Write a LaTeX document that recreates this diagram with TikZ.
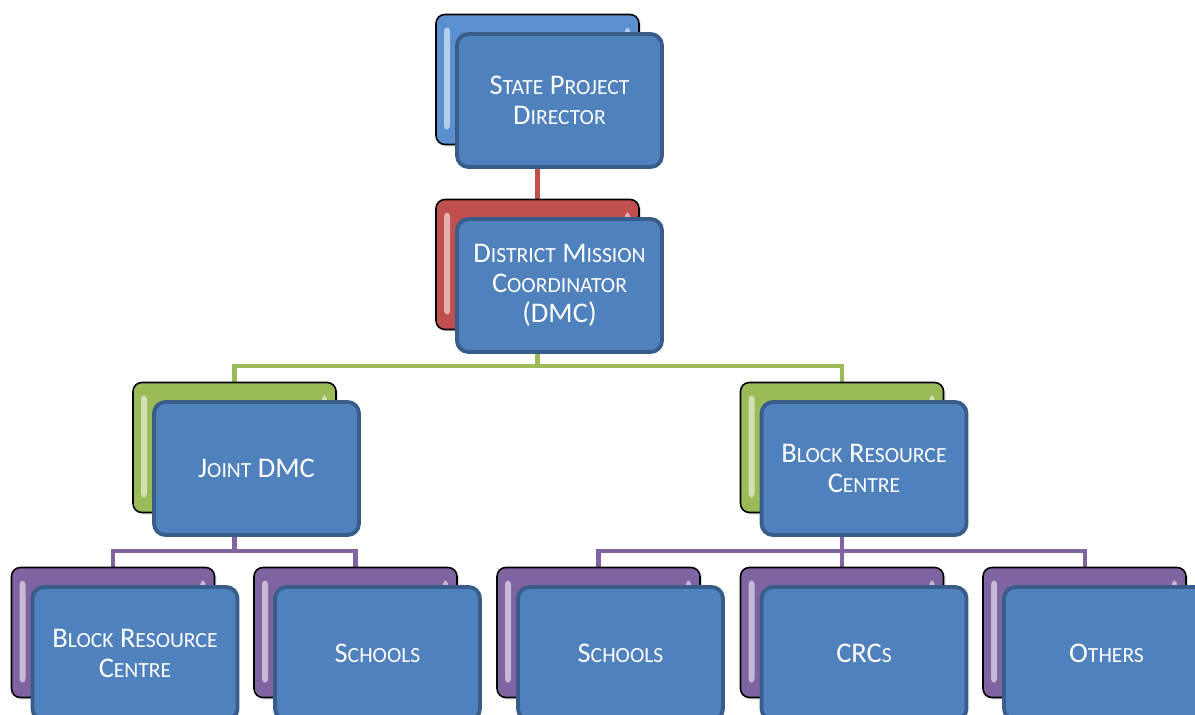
\documentclass[tikz,border=0pt]{standalone}
\usepackage{fontspec}
\setmainfont{Carlito}
\usetikzlibrary{positioning,backgrounds,shadows}

\definecolor{frontblue}{RGB}{79,129,189}
\definecolor{frontedge}{RGB}{56,93,138}
\definecolor{backblue}{RGB}{90,143,208}
\definecolor{backred}{RGB}{192,80,77}
\definecolor{backgreen}{RGB}{155,187,89}
\definecolor{backpurple}{RGB}{128,100,162}

\newcommand\sm[1]{{\fontsize{12.3}{17}\selectfont #1}}

\tikzset{
    front/.style={draw=frontedge, line width=2.2pt, fill=frontblue, rounded corners=6.5pt,
        minimum width=4.1cm, minimum height=2.66cm, inner sep=0pt, text=white, align=center,
        font=\fontsize{16.2}{17}\selectfont},
    back/.style={draw=black, line width=0.9pt, fill=#1, rounded corners=5pt,
        minimum width=4.06cm, minimum height=2.6cm, inner sep=0pt,
        drop shadow={shadow xshift=1.2pt, shadow yshift=-1.2pt, opacity=0.25},
        path picture={
            \fill[#1!45!white, rounded corners=2pt]
                ([shift={(8,13)}]path picture bounding box.north west) rectangle
                ([shift={(14,-15)}]path picture bounding box.south west);
            \fill[#1!45!white, rounded corners=2pt]
                ([shift={(-14,13)}]path picture bounding box.north east) rectangle
                ([shift={(-9,26)}]path picture bounding box.north east);
        }},
    link/.style={line width=2.3pt}
}

\begin{document}
\begin{tikzpicture}[x=0.02cm, y=-0.02cm]
        \useasboundingbox (0,0) rectangle (1195,714);
        \clip (0,0) rectangle (1195,714);
        \node[back=backblue] at (537.5,79.5) (a41c07e2) {};
        \node[front] at (559.5,100.5) (5d2e91b0) {S\sm{TATE} P\sm{ROJECT}\\D\sm{IRECTOR}};
        \node[back=backred] at (537.5,264.5) (c83f1a57) {};
        \node[front] at (559.5,285.5) (17be04d9) {D\sm{ISTRICT} M\sm{ISSION}\\C\sm{OORDINATOR}\\(DMC)};
        \node[back=backgreen] at (234.5,447.5) (e902b6c4) {};
        \node[front] at (256.5,468.5) (4b71d3ae) {J\sm{OINT} DMC};
        \node[back=backgreen] at (842,447.5) (90fd2c18) {};
        \node[front] at (864,468.5) (2a6e58f1) {B\sm{LOCK} R\sm{ESOURCE}\\C\sm{ENTRE}};
        \node[back=backpurple] at (113,632.5) (7c3d9e05) {};
        \node[front] at (135,653.5) (b58a24c6) {B\sm{LOCK} R\sm{ESOURCE}\\C\sm{ENTRE}};
        \node[back=backpurple] at (355.5,632.5) (3e81f7a2) {};
        \node[front] at (377.5,653.5) (d0c49b13) {S\sm{CHOOLS}};
        \node[back=backpurple] at (598.5,632.5) (61af08dd) {};
        \node[front] at (620.5,653.5) (f4b2375e) {S\sm{CHOOLS}};
        \node[back=backpurple] at (842,632.5) (08e6c9a4) {};
        \node[front] at (864,653.5) (a97d51c0) {CRC\sm{S}};
        \node[back=backpurple] at (1084.5,632.5) (5cb0e3f7) {};
        \node[front] at (1106.5,653.5) (e2574a89) {O\sm{THERS}};
        \coordinate (6f1d2b80) at (537.5,366);
        \coordinate (b9e04c31) at (234.5,551);
        \coordinate (47ca8e16) at (842,551);
        \begin{pgfonlayer}{background}
        \draw[link, draw=backred] (a41c07e2.south) -- (c83f1a57.north);
        \draw[link, draw=backgreen] (c83f1a57.south) -- (6f1d2b80) -| (e902b6c4.north);
        \draw[link, draw=backgreen] (6f1d2b80) -| (90fd2c18.north);
        \draw[link, draw=backpurple] (e902b6c4.south) -- (b9e04c31) -| (7c3d9e05.north);
        \draw[link, draw=backpurple] (b9e04c31) -| (3e81f7a2.north);
        \draw[link, draw=backpurple] (90fd2c18.south) -- (47ca8e16) -| (61af08dd.north);
        \draw[link, draw=backpurple] (47ca8e16) -- (08e6c9a4.north);
        \draw[link, draw=backpurple] (47ca8e16) -| (5cb0e3f7.north);
        \end{pgfonlayer}
    \end{tikzpicture}
\end{document}
